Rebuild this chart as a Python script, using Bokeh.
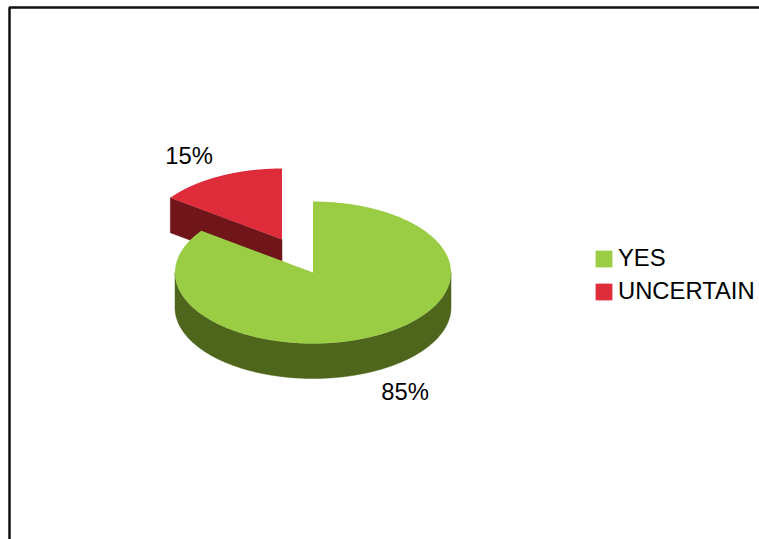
import numpy as np
from bokeh.core.properties import value
from bokeh.embed import file_html
from bokeh.models import Legend, LegendItem, Range1d
from bokeh.plotting import figure
from bokeh.resources import INLINE

# Survey answers, in percent
categories = ["YES", "UNCERTAIN"]
shares = [85, 15]
top_colors = ["#9ACD44", "#DF2C3A"]
side_colors = ["#4E661C", "#701519"]

# Pie geometry in page pixels
WIDTH, HEIGHT = 759, 539
CX, CY = 312.5, 272.0
RX, RY = 138.0, 71.0
DEPTH = 35.0
PULL = {"UNCERTAIN": (-31.0, -33.0)}
FONT = "Liberation Sans"
FONT_SIZE = "23.8px"

p = figure(
    width=WIDTH, height=HEIGHT, output_backend="svg", toolbar_location=None,
    x_range=Range1d(0, WIDTH), y_range=Range1d(HEIGHT, 0),
    min_border=0, outline_line_color=None, background_fill_color="white",
    border_fill_color="white",
)
p.axis.visible = False
p.grid.visible = False


def rim(theta, cx, cy):
    """Point on the ellipse, theta measured clockwise from twelve o'clock."""
    return cx + RX * np.sin(theta), cy - RY * np.cos(theta)


# Convert the shares into angular spans, clockwise from the top
edges = np.concatenate([[0.0], np.cumsum(shares)]) / sum(shares) * 2 * np.pi
slices = []
for i, name in enumerate(categories):
    dx, dy = PULL.get(name, (0.0, 0.0))
    slices.append((i, edges[i], edges[i + 1], CX + dx, CY + dy))

# Painted back to front: the pulled-out wedge first, then the main body
renderers = {}
for i, a0, a1, cx, cy in sorted(slices, key=lambda s: s[4]):
    # Cut face running from the centre to the slice's starting rim point;
    # a face lying exactly on the vertical axis is seen edge-on and is skipped
    ex, ey = rim(a0, cx, cy)
    if abs(ex - cx) > 1:
        p.patch([cx, ex, ex, cx], [cy, ey, ey + DEPTH, cy + DEPTH],
                fill_color=side_colors[i], line_color=side_colors[i], line_width=0.5)

    # Outer wall: only the part of the rim on the front half is visible
    lo, hi = max(a0, np.pi / 2), min(a1, 3 * np.pi / 2)
    if hi > lo:
        t = np.linspace(lo, hi, 160)
        wx, wy = rim(t, cx, cy)
        p.patch(np.concatenate([wx, wx[::-1]]),
                np.concatenate([wy, wy[::-1] + DEPTH]),
                fill_color=side_colors[i], line_color=side_colors[i], line_width=0.5)

    # Top face
    t = np.linspace(a0, a1, 240)
    tx, ty = rim(t, cx, cy)
    renderers[i] = p.patch(np.concatenate([[cx], tx]), np.concatenate([[cy], ty]),
                           fill_color=top_colors[i], line_color=None)

# Percentage labels beside each slice
label_x = [404.5, 188.5]
label_y = [391.0, 154.5]
p.text(label_x, label_y, text=[f"{s}%" for s in shares],
       text_align="center", text_baseline="middle",
       text_font=value(FONT), text_font_size=FONT_SIZE, text_color="#000000")

legend = Legend(
    items=[LegendItem(label=c, renderers=[renderers[i]]) for i, c in enumerate(categories)],
    location=(593, 234), orientation="vertical",
    background_fill_alpha=0, border_line_color=None,
    padding=0, margin=0, spacing=5,
    glyph_width=21, glyph_height=21, label_height=21, label_standoff=4,
    label_text_font=FONT, label_text_font_size=FONT_SIZE, label_text_color="#000000",
)
p.add_layout(legend, "center")

# Page frame, open towards the right and bottom edges
p.line([9, 9, WIDTH + 5], [HEIGHT + 5, 7, 7], line_color="#111111", line_width=2.5)

open("out.html", "w").write(file_html(p, INLINE))
